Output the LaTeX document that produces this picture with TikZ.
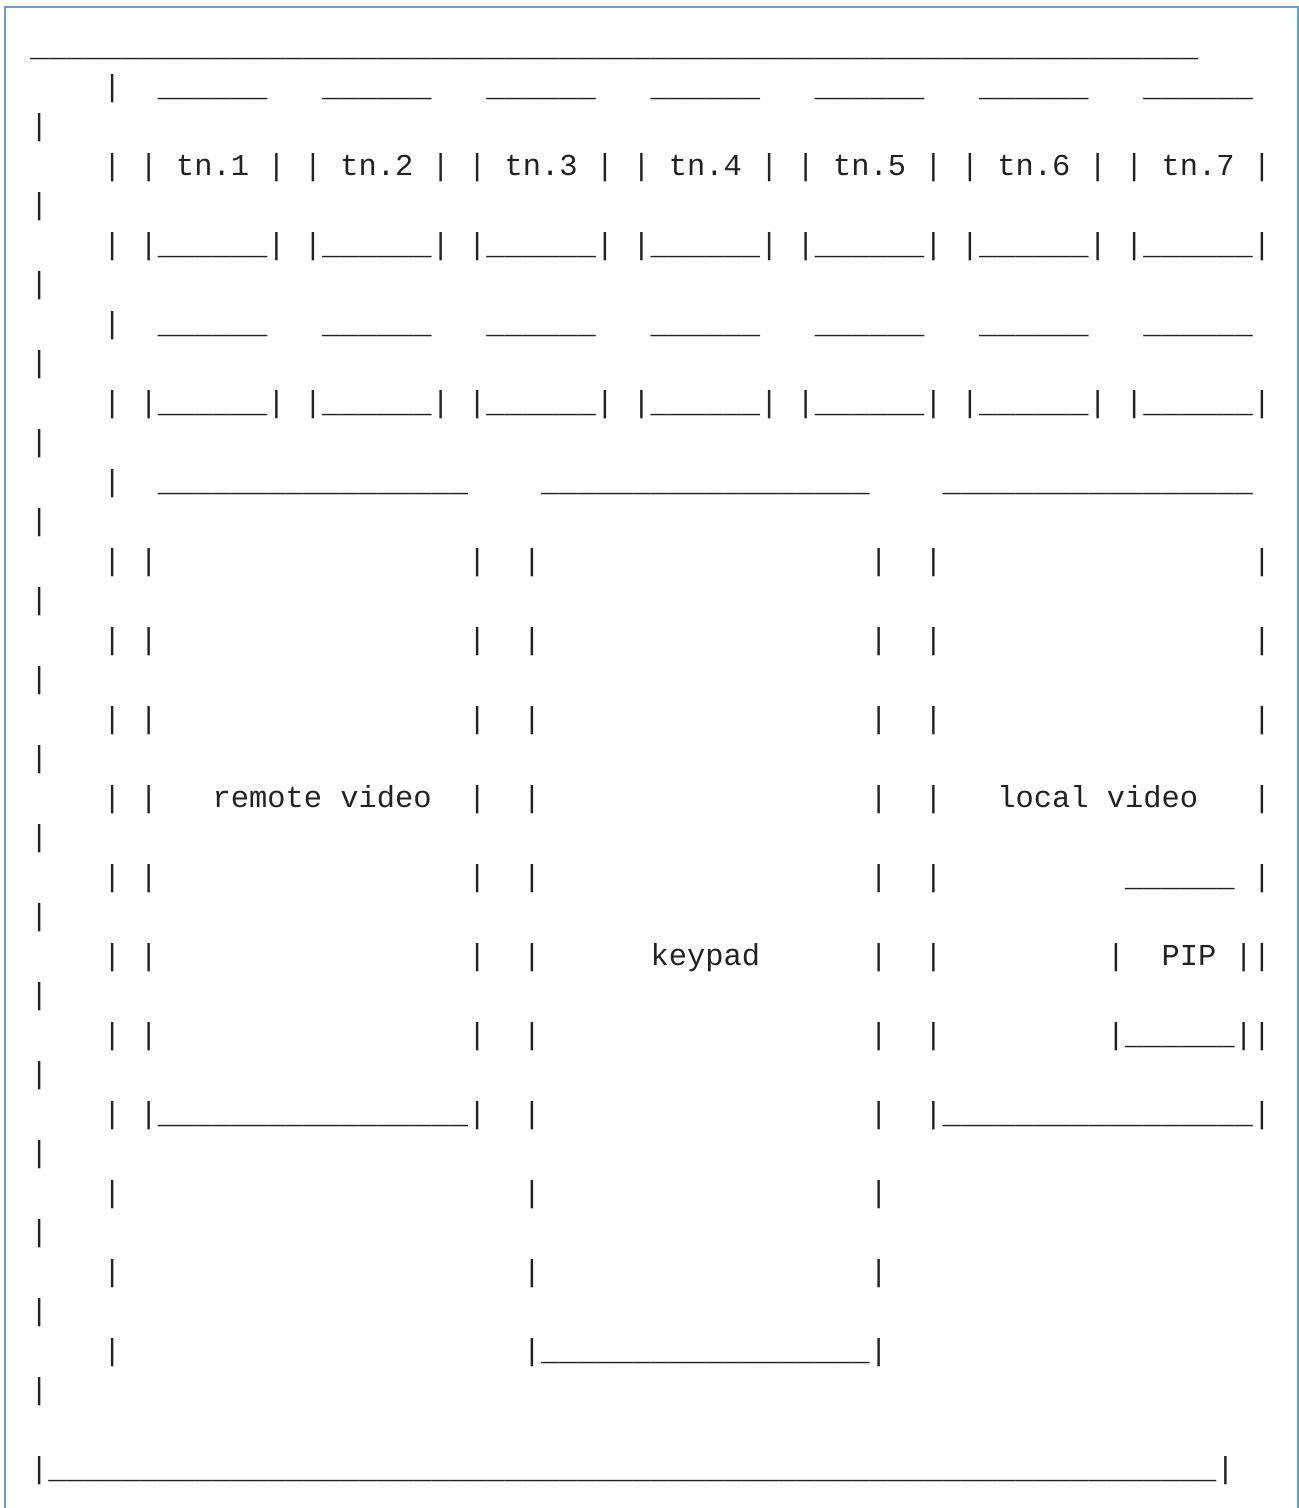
\documentclass[tikz,border=0pt]{standalone}
\usepackage{fontspec}
\newfontfamily\asciimono{Liberation Mono}
\ExplSyntaxOn
\newcommand\us[1]{\prg_replicate:nn{#1}{\textunderscore}}
\ExplSyntaxOff
\definecolor{framecol}{RGB}{108,158,212}
\definecolor{ink}{RGB}{34,34,34}
\tikzset{txt/.style={anchor=base west,inner sep=0pt,outer sep=0pt,text=ink,
  font=\asciimono\fontsize{30.42}{39.5}\selectfont}}
% row, column, text
\newcommand\seg[3]{\node[txt] (r#1c#2) at ({30+18.25*#2},{56.5+39.5*#1}) {#3};}
\begin{document}
\begin{tikzpicture}[x=1pt,y=-1pt]
\useasboundingbox (0,0) rectangle (1299,1508);
\draw[framecol,line width=2pt] (5,1508) -- (5,7) -- (1297.5,7) -- (1297.5,1508);
% top line
\seg{0}{0}{\us{64}}
% wrapped right edges
\foreach \rr in {2,4,...,34} {\seg{\rr}{0}{|}}
% thumbnail tops
\foreach \rr in {1,7} {
  \seg{\rr}{4}{|}
  \foreach \kk [evaluate=\kk as \cc using int(7+9*\kk)] in {0,...,6} {\seg{\rr}{\cc}{\us{6}}}
}
% thumbnail labels
\seg{3}{4}{|}
\foreach \kk [evaluate=\kk as \cc using int(6+9*\kk), evaluate=\kk as \tn using int(\kk+1)] in {0,...,6} {\seg{3}{\cc}{| tn.\tn{} |}}
% thumbnail bottoms
\foreach \rr in {5,9} {
  \seg{\rr}{4}{|}
  \foreach \kk [evaluate=\kk as \cc using int(6+9*\kk)] in {0,...,6} {\seg{\rr}{\cc}{|\us{6}|}}
}
% big boxes top
\seg{11}{4}{|}
\seg{11}{7}{\us{17}}
\seg{11}{28}{\us{18}}
\seg{11}{50}{\us{17}}
% box sides
\foreach \rr in {13,15,...,25} {
  \foreach \cc in {4,6,24,27,46,49,67} {\seg{\rr}{\cc}{|}}
}
\seg{19}{10}{remote video}
\seg{19}{53}{local video}
\seg{21}{60}{\us{6}}
\seg{23}{34}{keypad}
\seg{23}{59}{|}
\seg{23}{62}{PIP}
\seg{23}{66}{|}
\seg{25}{59}{|\us{6}|}
% box bottoms
\seg{27}{4}{|}
\seg{27}{6}{|\us{17}|}
\seg{27}{27}{|}
\seg{27}{46}{|}
\seg{27}{49}{|\us{17}|}
\foreach \rr in {29,31} {
  \foreach \cc in {4,27,46} {\seg{\rr}{\cc}{|}}
}
\seg{33}{4}{|}
\seg{33}{27}{|\us{18}|}
% bottom line
\seg{36}{0}{|\us{64}|}
\end{tikzpicture}
\end{document}
